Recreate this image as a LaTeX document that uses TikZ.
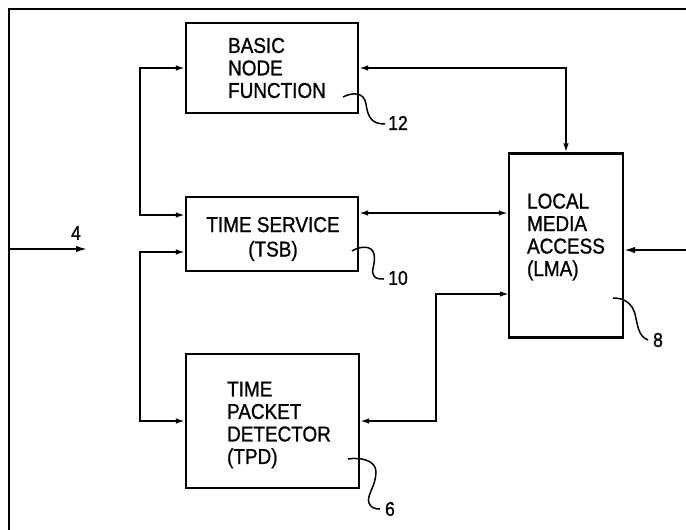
\documentclass[tikz,border=0pt]{standalone}
\usepackage{fontspec}
\setmainfont[FakeStretch=0.88,FakeBold=1]{Liberation Sans}
\usetikzlibrary{arrows.meta}
\begin{document}
\begin{tikzpicture}[x=1pt,y=-1pt,line width=1.7pt,
  box/.style={draw,line width=2.2pt,inner sep=0pt},
  txt/.style={font=\fontsize{21.5}{22.5}\selectfont,inner sep=0pt},
  num/.style={font=\fontsize{20}{21}\selectfont,inner sep=0pt},
  lead/.style={line width=1.5pt},
  both/.style={{Latex[length=9pt,width=5.5pt]}-{Latex[length=9pt,width=5.5pt]}},
  into/.style={-{Latex[length=11pt,width=6.5pt]}}]
\useasboundingbox (0,0) rectangle (686,530);
% frame
\coordinate (f0) at (9,9);
\coordinate (f1) at (686,9);
\coordinate (f2) at (9,530);
\draw[line width=2.2pt] (f2) -- (f0) -- (f1);
% boxes
\node[box,minimum width=172pt,minimum height=90pt] (bnf) at (272,68) {};
\node[box,minimum width=172pt,minimum height=74pt] (tsb) at (272,234) {};
\node[box,minimum width=173pt,minimum height=134pt] (tpd) at (272.5,421) {};
\node[box,minimum width=114pt,minimum height=184pt] (lma) at (566,245.5) {};
% texts
\node[txt,align=left] (bnfT) at (277,68) {BASIC\\NODE\\FUNCTION};
\node[txt,align=center] (tsbT) at (273,239) {TIME SERVICE\\[2pt](TSB)};
\node[txt,align=left] (tpdT) at (279,425) {TIME\\PACKET\\DETECTOR\\(TPD)};
\node[txt,align=left] (lmaT) at (566,237) {LOCAL\\MEDIA\\ACCESS\\(LMA)};
% left side connections
\coordinate (tsbA) at ([yshift=19pt]tsb.west);
\coordinate (tsbB) at ([yshift=-18pt]tsb.west);
\coordinate (jx) at (140,0);
\draw[both] (bnf.west) -- (bnf.west -| jx) |- (tsbA);
\draw[both] (tsbB) -- (tsbB -| jx) |- (tpd.west);
% input 4
\coordinate (in4a) at (9,249);
\coordinate (in4b) at (87,249);
\draw[into] (in4a) -- (in4b);
\node[num] (n4) at (76,233) {4};
% right side connections
\coordinate (tsbC) at ([yshift=21pt]tsb.east);
\draw[both] (bnf.east) -| (lma.north);
\draw[both] (tsbC) -- (tsbC -| lma.west);
\coordinate (lmaB) at (509,294);
\coordinate (tx) at (436,0);
\draw[both] (tpd.east) -- (tpd.east -| tx) |- (lmaB);
\coordinate (rin) at (686,250);
\draw[into] (rin) -- (rin -| lma.east);
% reference numerals
\draw[lead] (343,97) .. controls (353,92) and (364,92) .. (366,104) .. controls (368,118) and (372,124) .. (385,124);
\node[num] (n12) at (398,123) {12};
\draw[lead] (352,251) .. controls (360,246) and (372,245) .. (374,254) .. controls (376,264) and (370,272) .. (374,276) .. controls (376,279) and (380,279) .. (384,279);
\node[num] (n10) at (398,278) {10};
\draw[lead] (348,459) .. controls (360,457) and (376,460) .. (376,472) .. controls (376,486) and (366,496) .. (369,503) .. controls (371,508) and (375,509) .. (380,509);
\node[num] (n6) at (390,509) {6};
\draw[lead] (613,298) .. controls (624,298) and (632,303) .. (635,314) .. controls (638,326) and (638,336) .. (648,340);
\node[num] (n8) at (658,340) {8};
\end{tikzpicture}
\end{document}
